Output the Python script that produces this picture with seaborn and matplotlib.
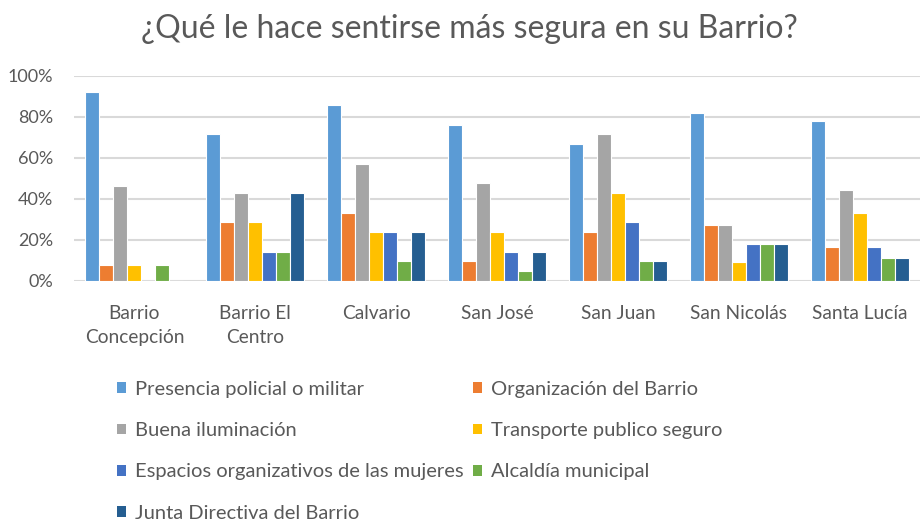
import numpy as np
import pandas as pd
import matplotlib
matplotlib.use("Agg")
import matplotlib.pyplot as plt
import seaborn as sns
from matplotlib.ticker import PercentFormatter
from matplotlib.patches import Patch

barrios = ["Barrio\nConcepción", "Barrio El\nCentro", "Calvario", "San José",
           "San Juan", "San Nicolás", "Santa Lucía"]

series = ["Presencia policial o militar", "Organización del Barrio",
          "Buena iluminación", "Transporte publico seguro",
          "Espacios organizativos de las mujeres", "Alcaldía municipal",
          "Junta Directiva del Barrio"]

presencia = [0.923, 0.714, 0.857, 0.762, 0.667, 0.818, 0.778]
organizacion = [0.077, 0.286, 0.333, 0.095, 0.238, 0.273, 0.167]
iluminacion = [0.462, 0.429, 0.571, 0.476, 0.714, 0.273, 0.444]
transporte = [0.077, 0.286, 0.238, 0.238, 0.429, 0.091, 0.333]
espacios = [0.0, 0.143, 0.238, 0.143, 0.286, 0.182, 0.167]
alcaldia = [0.077, 0.143, 0.095, 0.048, 0.095, 0.182, 0.111]
junta = [0.0, 0.429, 0.238, 0.143, 0.095, 0.182, 0.111]

colors = ["#5B9BD5", "#ED7D31", "#A5A5A5", "#FFC000", "#4472C4", "#70AD47", "#255E91"]

values = [presencia, organizacion, iluminacion, transporte, espacios, alcaldia, junta]
df = pd.DataFrame({
    "Barrio": np.tile(barrios, len(series)),
    "Serie": np.repeat(series, len(barrios)),
    "Valor": np.concatenate(values),
})

sns.set_theme(style="white")
plt.rcParams["font.family"] = ["Lato", "DejaVu Sans"]
text_color = "#595959"

fig = plt.figure(figsize=(9.24, 5.21), dpi=100)
ax = fig.add_axes([0.080, 0.4607, 0.916, 0.394])

sns.barplot(data=df, x="Barrio", y="Valor", hue="Serie", order=barrios,
            hue_order=series, palette=colors, saturation=1, width=0.81, ax=ax,
            edgecolor="white", linewidth=0.8, legend=False, errorbar=None)

ax.set_ylim(0, 1.0)
ax.set_xlim(-0.5, len(barrios) - 0.5)
ax.set_yticks(np.arange(0, 1.01, 0.2))
ax.yaxis.set_major_formatter(PercentFormatter(1.0, decimals=0))
ax.grid(axis="y", color="#D9D9D9", linewidth=1.5)
ax.set_axisbelow(True)
for s in ax.spines.values():
    s.set_visible(False)
ax.set_xlabel("")
ax.set_ylabel("")
ax.tick_params(axis="both", length=0, colors=text_color)
ax.tick_params(axis="x", pad=17, labelsize=13.8)
ax.tick_params(axis="y", pad=15, labelsize=13)
for lbl in ax.get_xticklabels():
    lbl.set_linespacing(1.55)

fig.text(0.5076, 0.945, "¿Qué le hace sentirse más segura en su Barrio?",
         ha="center", va="center", fontsize=23, color=text_color)

handles = [Patch(facecolor=c, edgecolor="none") for c in colors]
order = [0, 2, 4, 6, 1, 3, 5]
leg = fig.legend([handles[i] for i in order], [series[i] for i in order],
                 ncol=2, loc="upper left", bbox_to_anchor=(0.1266, 0.2687),
                 frameon=False, fontsize=14.5, handlelength=0.45, handleheight=0.45,
                 handletextpad=0.45, columnspacing=0.45, labelspacing=1.2,
                 borderpad=0, borderaxespad=0, labelcolor=text_color)

fig.savefig("out.png", dpi=100)
